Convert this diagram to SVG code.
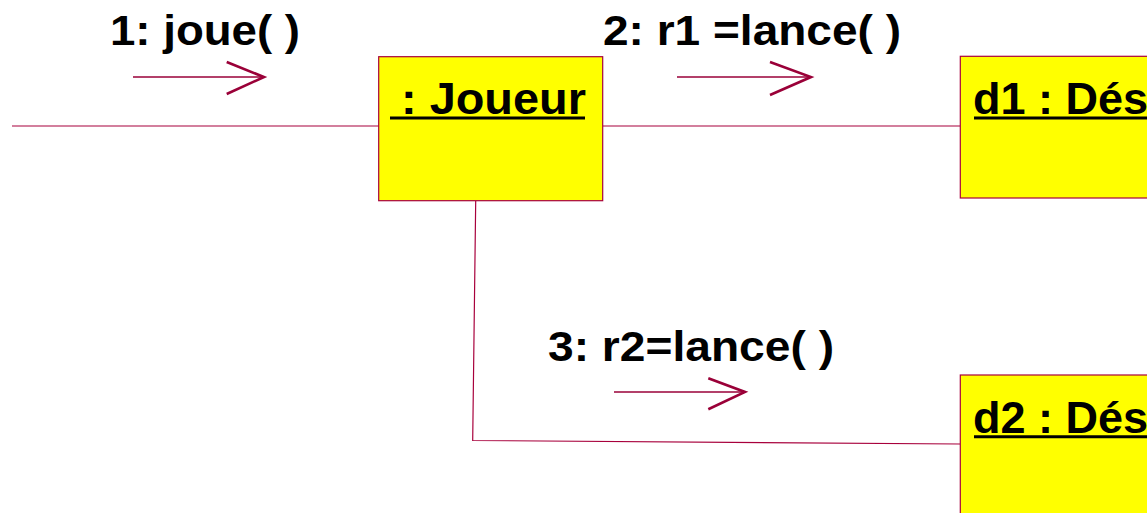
<svg xmlns="http://www.w3.org/2000/svg" width="1147" height="513" viewBox="0 0 1147 513">
  <style>
    .obj { fill: #ffff00; stroke: #a8003c; stroke-width: 1.2; }
    .name { font-family: "Liberation Sans", Arial, sans-serif; font-weight: bold; font-size: 45px; fill: #000; }
    .ul { stroke: #000; stroke-width: 3; }
    .link { fill: none; stroke: #a8003c; stroke-width: 1.2; }
    .msg { font-family: "Liberation Sans", Arial, sans-serif; font-weight: bold; font-size: 43px; fill: #000; }
    .shaft { stroke: #9a0038; stroke-width: 1.3; }
    .head { fill: none; stroke: #9a0038; stroke-width: 2.6; stroke-linejoin: miter; }
  </style>

  <!-- links between objects -->
  <g id="connectors">
    <line class="link" x1="12" y1="126" x2="379" y2="126"/>
    <line class="link" x1="603" y1="126" x2="960" y2="126"/>
    <polyline class="link" points="475.7,201 472.7,440.5 960,444"/>
  </g>

  <!-- messages -->
  <g id="msg1">
    <text class="msg" x="110" y="44.5" textLength="190" lengthAdjust="spacingAndGlyphs">1: joue( )</text>
    <line class="shaft" x1="133" y1="77" x2="264" y2="77"/>
    <polyline class="head" points="226.7,62 264,77 226.7,94"/>
  </g>
  <g id="msg2">
    <text class="msg" x="603" y="45" textLength="298" lengthAdjust="spacingAndGlyphs">2: r1 =lance( )</text>
    <line class="shaft" x1="677" y1="77" x2="811" y2="77"/>
    <polyline class="head" points="770,62 811,77 770,95"/>
  </g>
  <g id="msg3">
    <text class="msg" x="548" y="360.5" textLength="286" lengthAdjust="spacingAndGlyphs">3: r2=lance( )</text>
    <line class="shaft" x1="614" y1="392" x2="745" y2="392"/>
    <polyline class="head" points="708.3,378.3 745,392 708.3,409.3"/>
  </g>

  <!-- objects -->
  <g id="joueur">
    <rect class="obj" x="378.7" y="56.7" width="224" height="144"/>
    <text class="name" x="401" y="114" textLength="185" lengthAdjust="spacingAndGlyphs">: Joueur</text>
    <line class="ul" x1="390" y1="118" x2="585" y2="118"/>
  </g>
  <g id="d1">
    <rect class="obj" x="960.3" y="56.3" width="200" height="141.7"/>
    <text class="name" x="973" y="114">d1 : Dés</text>
    <line class="ul" x1="974" y1="118" x2="1147" y2="118"/>
  </g>
  <g id="d2">
    <rect class="obj" x="960.3" y="375" width="200" height="150"/>
    <text class="name" x="973" y="432.7">d2 : Dés</text>
    <line class="ul" x1="974" y1="436.7" x2="1147" y2="436.7"/>
  </g>
</svg>
